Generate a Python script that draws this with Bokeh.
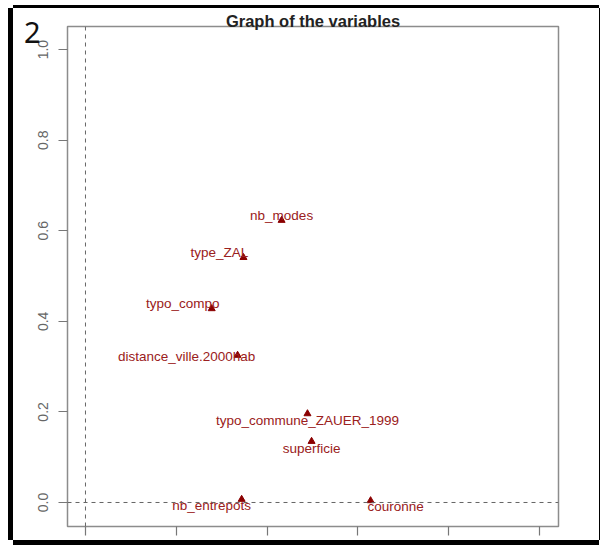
from bokeh.plotting import figure
from bokeh.models import ColumnDataSource, Span, FixedTicker, PrintfTickFormatter, Range1d
from bokeh.core.properties import value
from bokeh.embed import file_html
from bokeh.resources import INLINE

# --- data ---
variables = ["nb_modes", "type_ZAL", "typo_compo", "distance_ville.2000hab",
             "typo_commune_ZAUER_1999", "superficie", "nb_entrepots", "couronne"]
dim1 = [0.432, 0.348, 0.278, 0.335, 0.489, 0.498, 0.344, 0.628]
dim2 = [0.623, 0.541, 0.428, 0.325, 0.196, 0.135, 0.007, 0.004]
ticks = [0.0, 0.2, 0.4, 0.6, 0.8, 1.0]
title_text = "Graph of the variables"
panel_tag = "2"

# label placement (screen px offsets from the point)
label_dx = [0, -24, -29, -51, 0, 0, -30, 25]
label_dy = [-5, -5, -5, 1, 7, 7, 6, 6]

src = ColumnDataSource(dict(x=dim1, y=dim2, name=variables, dx=label_dx, dy=label_dy))

FONT = "Liberation Sans"

p = figure(width=586, height=532, output_backend="svg", toolbar_location=None,
           x_range=Range1d(-0.0396, 1.0419), y_range=Range1d(-0.053, 1.051),
           min_border_left=54, min_border_right=41, min_border_top=18, min_border_bottom=14)
p.background_fill_color = "white"
p.border_fill_color = "white"
p.grid.visible = False
p.outline_line_color = "#8c8c8c"
p.outline_line_width = 1.5
p.styles = {
    "margin-left": "13px",
    "margin-top": "8px",
    "box-shadow": "-5px 0 0 0 #000, 0 -3px 0 0 #000, 1px 0 0 0 #000, 0 5px 0 0 #000",
}

p.title.text = title_text
p.title.align = "center"
p.title.text_font = FONT
p.title.text_font_style = "bold"
p.title.text_font_size = "16.5px"
p.title.text_color = "#222222"
p.title.standoff = -7

for ax in (p.xaxis[0], p.yaxis[0]):
    ax.ticker = FixedTicker(ticks=ticks)
    ax.axis_line_color = None
    ax.major_tick_out = 9
    ax.major_tick_in = 0
    ax.minor_tick_line_color = None
    ax.major_tick_line_color = "#777777"
    ax.major_tick_line_width = 1.2
    ax.major_label_text_font = FONT
    ax.major_label_text_color = "#666666"
    ax.formatter = PrintfTickFormatter(format="%.1f")

p.xaxis.major_label_overrides = {t: "" for t in ticks}
p.xaxis.major_label_standoff = 0
p.yaxis.major_label_text_font_size = "14px"
p.yaxis.major_label_orientation = "vertical"
p.yaxis.major_label_standoff = 10

p.yaxis.axis_label = "\n" + panel_tag
p.yaxis.axis_label_orientation = "horizontal"
p.yaxis.axis_label_align = "end"
p.yaxis.axis_label_standoff = -5
p.yaxis.axis_label_text_font = "Noto Sans"
p.yaxis.axis_label_text_font_style = "normal"
p.yaxis.axis_label_text_font_size = "29px"
p.yaxis.axis_label_text_line_height = 0.28
p.yaxis.axis_label_text_color = "#111111"

p.add_layout(Span(location=0, dimension="height", line_color="#666666", line_width=1, line_dash="4 4"))
p.add_layout(Span(location=0, dimension="width", line_color="#666666", line_width=1, line_dash="4 4"))

p.scatter("x", "y", source=src, marker="triangle", size=7, color="#8B0000")
p.text("x", "y", text="name", source=src, x_offset="dx", y_offset="dy",
       text_align="center", text_baseline="middle", text_font=value(FONT),
       text_font_size="13.5px", text_color="#9a2020")

open("out.html", "w").write(file_html(p, INLINE))
